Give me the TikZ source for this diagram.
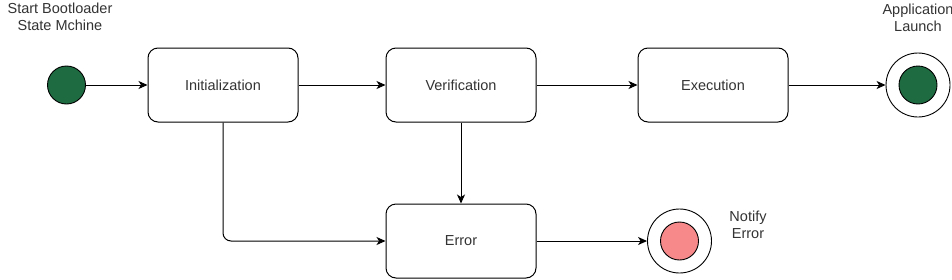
\documentclass[tikz,border=0pt]{standalone}
\usepackage{fontspec}
\setmainfont{Liberation Sans}
\usetikzlibrary{arrows.meta}
\definecolor{stgreen}{HTML}{1E6B42}
\definecolor{stpink}{HTML}{F7898B}
\definecolor{txt}{HTML}{333333}
\tikzset{
  statebox/.style={draw=black, line width=1pt, rounded corners=10pt, minimum width=150pt, minimum height=74pt, inner sep=0pt, font=\fontsize{14.5}{16}\selectfont, text=txt},
  dot/.style={circle, draw=black, line width=0.9pt, minimum size=38pt, inner sep=0pt},
  ring/.style={circle, draw=black, line width=0.9pt, minimum size=64pt, inner sep=0pt},
  lbl/.style={align=center, font=\fontsize{14.5}{17}\selectfont, text=txt, inner sep=0pt},
  conn/.style={draw=black, line width=1pt, -{Stealth[length=9pt,width=8pt,inset=2.5pt]}}
}
\begin{document}
\begin{tikzpicture}[x=1pt,y=-1pt]
\useasboundingbox (0,0) rectangle (952,279);
\node[dot, fill=stgreen] (start) at (66.5,85) {};
\node[statebox] (init) at (223,85) {Initialization};
\node[statebox] (verif) at (461,85) {Verification};
\node[statebox] (exec) at (713,85) {Execution};
\node[statebox] (err) at (461,241) {Error};
\node[ring] (endring) at (918,85) {};
\node[dot, fill=stgreen] (enddot) at (918,85) {};
\node[ring] (notring) at (679.5,241) {};
\node[dot, fill=stpink] (notdot) at (679.5,241) {};
\node[lbl] (startlbl) at (60,17) {Start Bootloader\\State Mchine};
\node[lbl] (endlbl) at (918,18) {Application\\Launch};
\node[lbl] (notlbl) at (748,225) {Notify\\Error};
\coordinate (corner) at (init.south |- err.west);
\draw[conn] (start) -- (init);
\draw[conn] (init) -- (verif);
\draw[conn] (verif) -- (exec);
\draw[conn] (exec) -- (endring);
\draw[conn] (verif) -- (err);
\draw[conn, rounded corners=8pt] (init.south) -- (corner) -- (err.west);
\draw[conn] (err) -- (notring);
\end{tikzpicture}
\end{document}
